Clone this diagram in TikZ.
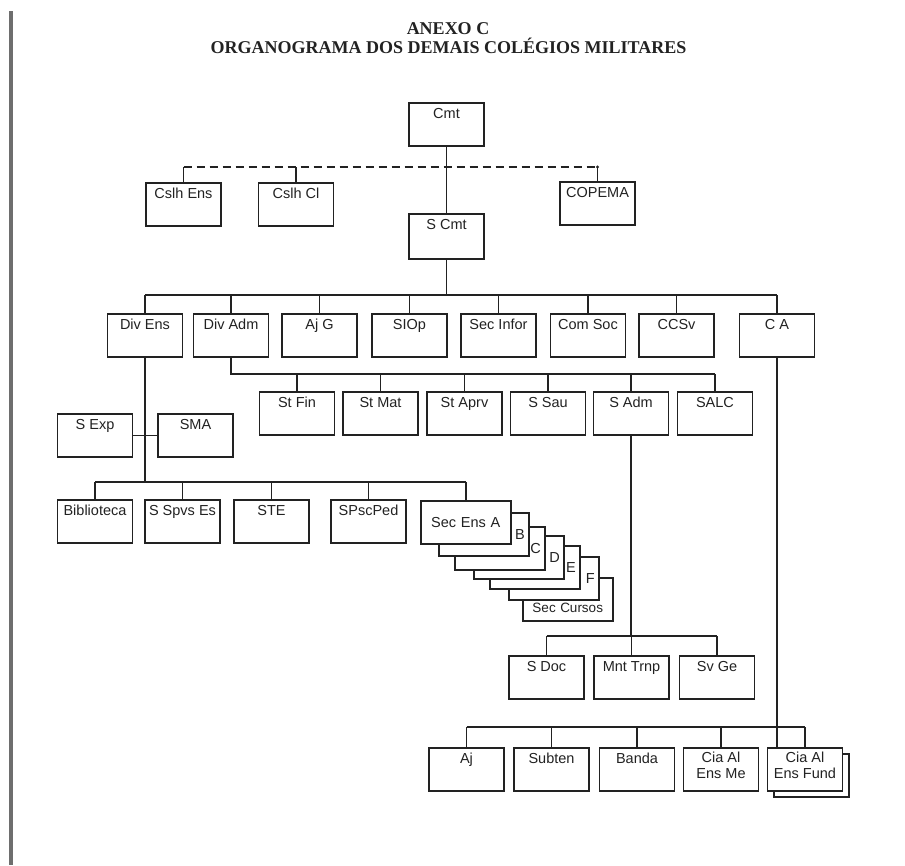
\documentclass[tikz,border=0pt]{standalone}
\usepackage{fontspec}
\setmainfont{Liberation Serif}
\setsansfont{Liberation Sans}
\usepackage{xcolor}
\definecolor{preto}{RGB}{34,34,34}
\definecolor{cinza}{RGB}{110,110,110}
\definecolor{branco}{RGB}{255,255,255}

\tikzset{
  caixa/.style={draw=preto, line width=1.5pt, fill=branco, minimum width=75pt,
    minimum height=43pt, inner sep=0pt, anchor=north, align=center,
    text height=16pt, text depth=27pt, text=preto,
    font=\sffamily\fontsize{14.5}{16}\selectfont},
  duaslinhas/.style={caixa, text height=31pt, text depth=12pt},
  camada/.style={caixa, anchor=north west, minimum width=90pt, inner xsep=4pt,
    text width=82pt, align=right, text height=26.5pt, text depth=16.5pt},
  linha/.style={draw=preto, line width=1.5pt},
  titulo/.style={anchor=base, text=preto, font=\bfseries\fontsize{18}{19}\selectfont}
}

\begin{document}
\begin{tikzpicture}[x=1pt,y=-1pt]
  \useasboundingbox[fill=branco] (0,0) rectangle (905,865);
  \fill[cinza] (9,11) rectangle (12.5,865);

  \node[titulo] (anexo) at (448,34) {ANEXO C};
  \node[titulo] (orgtitulo) at (448.5,53) {ORGANOGRAMA DOS DEMAIS COLÉGIOS MILITARES};

  % comando e conselhos
  \node[caixa] (cmt) at (446.5,102) {Cmt};
  \node[caixa] (cslhens) at (183.5,182) {Cslh Ens};
  \node[caixa] (cslhcl) at (296,182) {Cslh Cl};
  \node[caixa] (copema) at (597.5,181) {COPEMA};
  \node[caixa, minimum height=45pt, text depth=29pt] (scmt) at (446.5,213) {S Cmt};

  % divisoes e secoes
  \node[caixa] (divens) at (145,313) {Div Ens};
  \node[caixa] (divadm) at (231,313) {Div Adm};
  \node[caixa] (ajg) at (319.5,313) {Aj G};
  \node[caixa] (siop) at (409.5,313) {SIOp};
  \node[caixa] (secinfor) at (498.5,313) {Sec Infor};
  \node[caixa] (comsoc) at (588,313) {Com Soc};
  \node[caixa] (ccsv) at (676.5,313) {CCSv};
  \node[caixa] (ca) at (777,313) {C A};

  \node[caixa] (stfin) at (297,391) {St Fin};
  \node[caixa] (stmat) at (380.5,391) {St Mat};
  \node[caixa] (staprv) at (464.5,391) {St Aprv};
  \node[caixa] (ssau) at (548,391) {S Sau};
  \node[caixa] (sadm) at (631,391) {S Adm};
  \node[caixa] (salc) at (715,391) {SALC};

  \node[caixa] (sexp) at (95,413) {S Exp};
  \node[caixa] (sma) at (195.5,413) {SMA};

  \node[caixa] (biblioteca) at (95,499) {Biblioteca};
  \node[caixa] (sspvses) at (182.5,499) {S Spvs Es};
  \node[caixa] (ste) at (271.5,499) {STE};
  \node[caixa] (spscped) at (368.5,499) {SPscPed};

  % secoes de ensino empilhadas
  \node[camada, align=center, text height=35pt, text depth=8pt,
    font=\sffamily\fontsize{13.5}{15}\selectfont] (seccursos) at (522,577) {Sec Cursos};
  \node[camada] (secF) at (508,556) {F};
  \node[camada] (secE) at (489,545) {E};
  \node[camada] (secD) at (473,535) {D};
  \node[camada] (secC) at (454,526) {C};
  \node[camada] (secB) at (438,512) {B};
  \node[camada, align=center] (secA) at (420,500) {Sec Ens A};

  \node[caixa] (sdoc) at (546.5,655) {S Doc};
  \node[caixa] (mnttrnp) at (631.5,655) {Mnt Trnp};
  \node[caixa] (svge) at (717,655) {Sv Ge};

  \node[caixa] (aj) at (466.5,747) {Aj};
  \node[caixa] (subten) at (551.5,747) {Subten};
  \node[caixa] (banda) at (637,747) {Banda};
  \node[duaslinhas] (ciame) at (721,747) {Cia Al\\Ens Me};
  \node[caixa, anchor=north west] (ciasombra) at (773,753) {};
  \node[duaslinhas] (ciafund) at (805,747) {Cia Al\\Ens Fund};

  % ligacoes
  \coordinate (tr) at (0,167);
  \coordinate (b1) at (0,295);
  \coordinate (b2) at (0,374);
  \coordinate (b4) at (0,482);
  \coordinate (b5) at (0,636);
  \coordinate (b6) at (0,727);

  \draw[linha] (cmt.south) -- (scmt.north);
  \draw[linha, dash pattern=on 8pt off 5pt] (cslhens.north |- tr) -- (copema.north |- tr);
  \foreach \n in {cslhens,cslhcl,copema}
    \draw[linha] (\n.north) -- (\n.north |- tr);
  \fill[preto] (copema.north |- tr) circle (1.6pt);

  \draw[linha] (scmt.south) -- (scmt.south |- b1);
  \draw[linha] (divens.north |- b1) -- (ca.north |- b1);
  \foreach \n in {divens,divadm,ajg,siop,secinfor,comsoc,ccsv,ca}
    \draw[linha] (\n.north) -- (\n.north |- b1);

  \draw[linha] (divadm.south) |- (salc.north |- b2);
  \foreach \n in {stfin,stmat,staprv,ssau,sadm,salc}
    \draw[linha] (\n.north) -- (\n.north |- b2);

  \draw[linha] (divens.south) -- (divens.south |- b4);
  \draw[linha] (sexp.east) -- (sma.west);
  \draw[linha] (biblioteca.north |- b4) -- (secA.north |- b4);
  \foreach \n in {biblioteca,sspvses,ste,spscped,secA}
    \draw[linha] (\n.north) -- (\n.north |- b4);

  \draw[linha] (sadm.south) -- (sadm.south |- b5);
  \draw[linha] (sdoc.north |- b5) -- (svge.north |- b5);
  \foreach \n in {sdoc,mnttrnp,svge}
    \draw[linha] (\n.north) -- (\n.north |- b5);

  \draw[linha] (ca.south) -- (ca.south |- ciafund.north);
  \draw[linha] (aj.north |- b6) -- (ciafund.north |- b6);
  \foreach \n in {aj,subten,banda,ciame,ciafund}
    \draw[linha] (\n.north) -- (\n.north |- b6);
\end{tikzpicture}
\end{document}
